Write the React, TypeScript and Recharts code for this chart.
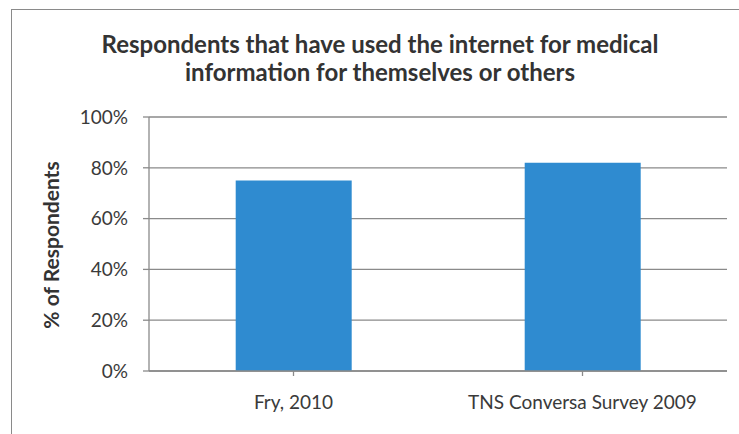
import { BarChart, Bar, XAxis, YAxis, CartesianGrid } from 'recharts'

const sources = ['Fry, 2010', 'TNS Conversa Survey 2009']
const usedInternet = [75, 82] // % of respondents
const yTicks = [0, 20, 40, 60, 80, 100]

const data = sources.map((name, i) => ({ name, value: usedInternet[i] }))

const font = 'Lato, "Open Sans", sans-serif'
const ink = '#3a3a3a'
const lineGray = '#8a8a8a'

export default function App() {
  return (
    <div style={{ position: 'absolute', left: 0, top: 0, width: 739, height: 434, background: '#fff', fontFamily: font, overflow: 'hidden' }}>
      {/* frame of the scanned chart */}
      <div style={{ position: 'absolute', left: 11, top: 9, width: 740, height: 440, border: `1.5px solid ${lineGray}` }} />
      <div
        style={{
          position: 'absolute',
          left: 30,
          width: 700,
          top: 30,
          textAlign: 'center',
          fontWeight: 700,
          fontSize: 24,
          lineHeight: '28px',
          color: '#333',
        }}
      >
        Respondents that have used the internet for medical
        <br />
        information for themselves or others
      </div>
      <BarChart
        width={739}
        height={434}
        data={data}
        margin={{ top: 117, right: 12, bottom: 33, left: 0 }}
        barCategoryGap="30%"
        style={{ position: 'absolute', left: 0, top: 0 }}
      >
        <CartesianGrid vertical={false} stroke={lineGray} strokeWidth={1.3} />
        <XAxis
          dataKey="name"
          height={30}
          stroke={lineGray}
          strokeWidth={1.3}
          tickSize={5}
          tickMargin={20}
          tick={{ fontSize: 19, fill: ink, fontFamily: font }}
          interval={0}
        />
        <YAxis
          width={149}
          domain={[0, 100]}
          ticks={yTicks}
          tickFormatter={(v) => `${v}%`}
          stroke={lineGray}
          strokeWidth={1.3}
          tickSize={6}
          tickMargin={15}
          tick={{ fontSize: 19, fill: ink, fontFamily: font }}
          label={{
            content: () => (
              <text
                x={59}
                y={245}
                transform="rotate(-90 59 245)"
                textAnchor="middle"
                fontSize={21}
                fontWeight={700}
                fill="#333"
                fontFamily={font}
              >
                % of Respondents
              </text>
            ),
          }}
        />
        <Bar dataKey="value" fill="#2f8bd0" isAnimationActive={false} />
      </BarChart>
    </div>
  )
}
